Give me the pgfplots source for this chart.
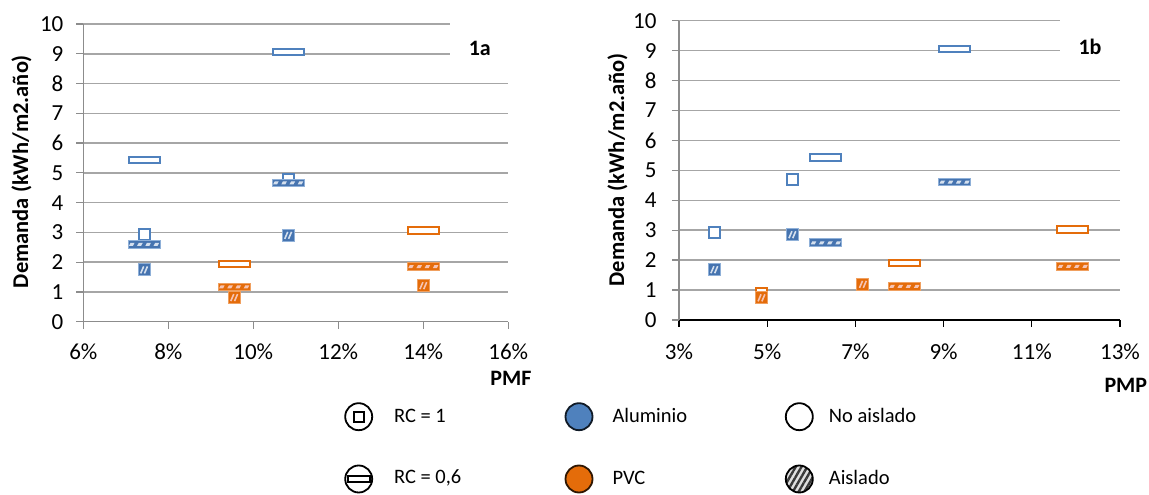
\documentclass[border=0pt]{standalone}
\usepackage{fontspec}
\setmainfont{Carlito}
\usepackage{pgfplots}
\pgfplotsset{compat=1.18}
\usetikzlibrary{patterns.meta}

\definecolor{azul}{HTML}{4F81BD}
\definecolor{azulh}{HTML}{4674B0}
\definecolor{azuld}{HTML}{D5E0EE}
\definecolor{azulb}{HTML}{8FB0D8}
\definecolor{naranja}{HTML}{E46C0A}
\definecolor{naranjad}{HTML}{F6C4B4}
\definecolor{naranjab}{HTML}{F0A060}
\definecolor{gridc}{HTML}{A6A6A6}
\definecolor{axisc}{HTML}{8C8C8C}

% open wide rectangle (RC = 0,6, no aislado)
\pgfdeclareplotmark{wopen}{%
  \pgfpathrectangle{\pgfpoint{-15.5pt}{-3.2pt}}{\pgfpoint{31pt}{6.4pt}}%
  \pgfusepathqfillstroke}
% open square (RC = 1, no aislado)
\pgfdeclareplotmark{sopen}{%
  \pgfpathrectangle{\pgfpoint{-5.5pt}{-5.5pt}}{\pgfpoint{11pt}{11pt}}%
  \pgfusepathqfillstroke}
\newcommand\hdash[1]{%
  \pgfpathmoveto{\pgfpoint{#1pt-2.8pt}{-1.5pt}}%
  \pgfpathlineto{\pgfpoint{#1pt+1.2pt}{-1.5pt}}%
  \pgfpathlineto{\pgfpoint{#1pt+2.8pt}{1.5pt}}%
  \pgfpathlineto{\pgfpoint{#1pt-1.2pt}{1.5pt}}%
  \pgfpathclose}
\newcommand\defwhatch[2]{%
  \pgfdeclareplotmark{#1}{%
    \pgfpathrectangle{\pgfpoint{-16pt}{-3.8pt}}{\pgfpoint{32pt}{7.6pt}}%
    \pgfusepathqfillstroke
    \begin{pgfscope}%
    \pgfsetfillcolor{#2}%
    \hdash{-12.3}\hdash{-4.1}\hdash{4.1}\hdash{12.3}%
    \pgfusepathqfill
    \end{pgfscope}}}
\newcommand\defshatch[2]{%
  \pgfdeclareplotmark{#1}{%
    \pgfpathrectangle{\pgfpoint{-6pt}{-6pt}}{\pgfpoint{12pt}{12pt}}%
    \pgfusepathqfillstroke
    \begin{pgfscope}%
    \pgfsetstrokecolor{#2}\pgfsetlinewidth{1.6pt}%
    \pgfpathmoveto{\pgfpoint{-3.4pt}{-3.5pt}}\pgfpathlineto{\pgfpoint{-0.4pt}{3.5pt}}%
    \pgfpathmoveto{\pgfpoint{0.4pt}{-3.5pt}}\pgfpathlineto{\pgfpoint{3.4pt}{3.5pt}}%
    \pgfusepathqstroke
    \end{pgfscope}}}
\defwhatch{whatchA}{azuld}
\defwhatch{whatchP}{naranjad}
\defshatch{shatchA}{azuld}
\defshatch{shatchP}{naranjad}

\pgfplotsset{
  base/.style={
    scale only axis,
    axis x line*=bottom, axis y line*=left,
    axis line style={-, draw=axisc, line width=1.3pt},
    ymin=0, ymax=10, ytick={0,1,...,10},
    ymajorgrids, grid style={draw=gridc, line width=1.5pt},
    tick align=outside, major tick length=7pt,
    tick style={draw=axisc, line width=1.3pt},
    tick label style={font=\fontsize{23}{27}\selectfont, text=black},
    /pgf/number format/assume math mode=true,
    clip=false,
    ylabel={Demanda (kWh/m2.año)},
    only marks,
  },
}

\begin{document}
\begin{tikzpicture}
\useasboundingbox (0,0) rectangle (1149pt,495pt);

% ---------------- 1a ----------------
\begin{axis}[base,
  at={(83.3pt,173.3pt)}, anchor=south west,
  width=425pt, height=297.7pt,
  xmin=6, xmax=16, xtick={6,8,10,12,14,16},
  xticklabels={6\%,8\%,10\%,12\%,14\%,16\%},
  yticklabel style={anchor=east, inner sep=0pt, xshift=-12.7pt},
  xticklabel style={anchor=center, inner sep=0pt, yshift=-23pt},
  xlabel={PMF},
  every axis x label/.style={at={(axis description cs:1.006,-0.190)}, anchor=center, font=\bfseries\fontsize{22}{26}\selectfont},
  every axis y label/.style={at={(axis description cs:-0.1454,0.504)}, rotate=90, anchor=center, font=\bfseries\fontsize{22.5}{26}\selectfont},
]
% RC = 1, no aislado
\addplot[mark=sopen, mark options={draw=azul, fill=white, line width=2pt}] coordinates {(7.43,2.94) (10.82,4.77)};
% RC = 1, aislado
\addplot[mark=shatchA, mark options={fill=azulh, draw=azulb, line width=1pt}] coordinates {(7.43,1.74) (10.82,2.90)};
\addplot[mark=shatchP, mark options={fill=naranja, draw=naranjab, line width=1pt}] coordinates {(9.55,0.81) (14.0,1.21)};
% RC = 0,6, no aislado
\addplot[mark=wopen, mark options={draw=azul, fill=white, line width=2pt}] coordinates {(7.43,5.44) (10.82,9.06)};
\addplot[mark=wopen, mark options={draw=naranja, fill=white, line width=2pt}] coordinates {(9.55,1.93) (14.0,3.06)};
% RC = 0,6, aislado
\addplot[mark=whatchA, mark options={fill=azulh, draw=azulb, line width=1pt}] coordinates {(7.43,2.60) (10.82,4.66)};
\addplot[mark=whatchP, mark options={fill=naranja, draw=naranjab, line width=1pt}] coordinates {(9.55,1.17) (14.0,1.85)};
\fill[white] (axis cs:14.63,8.55) rectangle (axis cs:16.3,10.3);
\node[font=\bfseries\fontsize{22}{26}\selectfont] at (axis cs:15.33,9.17) {1a};
\end{axis}

% ---------------- 1b ----------------
\begin{axis}[base,
  at={(679pt,175pt)}, anchor=south west,
  width=441pt, height=299.3pt,
  xmin=3, xmax=13, xtick={3,5,7,9,11,13},
  xticklabels={3\%,5\%,7\%,9\%,11\%,13\%},
  yticklabel style={anchor=east, inner sep=0pt, xshift=-15.3pt},
  xticklabel style={anchor=center, inner sep=0pt, yshift=-24.5pt},
  x axis line style={draw=black},
  xtick style={draw=black, line width=1.3pt},
  xlabel={PMP},
  every axis x label/.style={at={(axis description cs:1.0132,-0.217)}, anchor=center, font=\bfseries\fontsize{22}{26}\selectfont},
  every axis y label/.style={at={(axis description cs:-0.1395,0.501)}, rotate=90, anchor=center, font=\bfseries\fontsize{22.5}{26}\selectfont},
]
% RC = 1, no aislado
\addplot[mark=sopen, mark options={draw=azul, fill=white, line width=2pt}] coordinates {(3.80,2.91) (5.57,4.69)};
\addplot[mark=sopen, mark options={draw=naranja, fill=white, line width=2pt}] coordinates {(4.87,0.89)};
% RC = 1, aislado
\addplot[mark=shatchA, mark options={fill=azulh, draw=azulb, line width=1pt}] coordinates {(3.80,1.68) (5.57,2.85)};
\addplot[mark=shatchP, mark options={fill=naranja, draw=naranjab, line width=1pt}] coordinates {(4.87,0.74) (7.17,1.19)};
% RC = 0,6, no aislado
\addplot[mark=wopen, mark options={draw=azul, fill=white, line width=2pt}] coordinates {(6.33,5.43) (9.25,9.05)};
\addplot[mark=wopen, mark options={draw=naranja, fill=white, line width=2pt}] coordinates {(8.11,1.91) (11.93,3.03)};
% RC = 0,6, aislado
\addplot[mark=whatchA, mark options={fill=azulh, draw=azulb, line width=1pt}] coordinates {(6.33,2.58) (9.25,4.61)};
\addplot[mark=whatchP, mark options={fill=naranja, draw=naranjab, line width=1pt}] coordinates {(8.11,1.12) (11.93,1.79)};
\fill[white] (axis cs:11.64,8.55) rectangle (axis cs:13.3,10.3);
\node[font=\bfseries\fontsize{22}{26}\selectfont] at (axis cs:12.32,9.13) {1b};
\end{axis}

% ---------------- legend ----------------
\begin{scope}[line width=1.8pt]
% row 1
\draw[black, fill=white] (358.7pt,78.3pt) circle (13.5pt);
\draw[black, line width=1.8pt] (353.7pt,73.3pt) rectangle (363.7pt,83.3pt);
\node[anchor=west, inner sep=0pt, font=\fontsize{20.5}{24}\selectfont] at (393.2pt,79.3pt) {RC = 1};
\draw[black!80!azul, fill=azul] (579pt,78.3pt) circle (13.5pt);
\node[anchor=west, inner sep=0pt, font=\fontsize{20.5}{24}\selectfont] at (611.6pt,79.3pt) {Aluminio};
\draw[black, fill=white] (799.3pt,78.3pt) circle (13.5pt);
\node[anchor=west, inner sep=0pt, font=\fontsize{20.5}{24}\selectfont] at (828pt,79.3pt) {No aislado};
% row 2
\draw[black, fill=white] (358.7pt,16pt) circle (13.5pt);
\draw[black, line width=1.8pt] (347.7pt,12.8pt) rectangle (369.7pt,19.2pt);
\node[anchor=west, inner sep=0pt, font=\fontsize{20.5}{24}\selectfont] at (393.2pt,17.3pt) {RC = 0,6};
\draw[black!80!naranja, fill=naranja] (579pt,16pt) circle (13.5pt);
\node[anchor=west, inner sep=0pt, font=\fontsize{20.5}{24}\selectfont] at (611.6pt,17.3pt) {PVC};
\draw[black, preaction={fill=gray!25}, pattern={Lines[angle=60,distance=5pt,line width=2.4pt]}, pattern color=gray!45!black] (799.3pt,16pt) circle (13.5pt);
\node[anchor=west, inner sep=0pt, font=\fontsize{20.5}{24}\selectfont] at (828pt,17.3pt) {Aislado};
\end{scope}
\end{tikzpicture}
\end{document}
